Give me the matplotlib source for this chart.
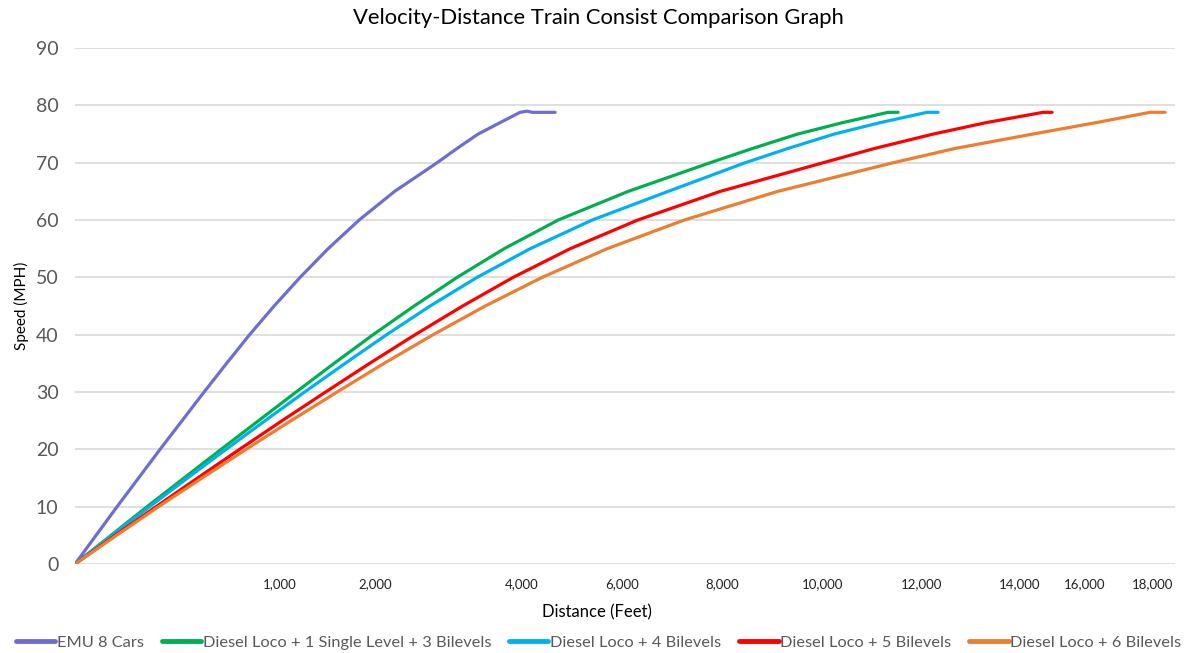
import matplotlib.pyplot as plt

plt.rcParams['font.family'] = ['Lato', 'DejaVu Sans']

# each consist: sample position along the run vs. speed (mph)
emu_t = [0, 4.2, 8.4, 12.7, 17.0, 21.4, 25.8, 30.3, 34.9, 39.8, 45.0, 50.6, 56.8, 63.9,
         72.4, 76.4, 80.6, 85.0, 89.0, 90.4, 91.5, 96]
emu_v = [0, 5, 10, 15, 20, 25, 30, 35, 40, 45, 50, 55, 60, 65,
         70, 72.5, 75, 77, 78.8, 79.0, 78.8, 78.8]

d13_t = [0, 7.2, 14.4, 21.8, 29.2, 36.7, 44.2, 51.8, 59.6, 67.8, 76.4, 85.8, 96.6, 110.6,
         127, 135.5, 144.5, 153.5, 162.6, 164.6]
d13_v = [0, 5, 10, 15, 20, 25, 30, 35, 40, 45, 50, 55, 60, 65,
         70, 72.5, 75, 77, 78.8, 78.8]

d4_t = [0, 7.4, 14.9, 22.5, 30.2, 38, 45.9, 54, 62.3, 71, 80.4, 91, 103.4, 118.6,
        134, 142.6, 151.8, 161.0, 170.4, 172.6]
d4_v = [0, 5, 10, 15, 20, 25, 30, 35, 40, 45, 50, 55, 60, 65,
        70, 72.5, 75, 77, 78.8, 78.8]

d5_t = [0, 8, 16.2, 24.5, 32.9, 41.4, 50.1, 58.9, 68, 77.5, 87.6, 99, 112.5, 129,
        149.6, 159.9, 171.6, 182.2, 193.6, 195.4]
d5_v = [0, 5, 10, 15, 20, 25, 30, 35, 40, 45, 50, 55, 60, 65,
        70, 72.5, 75, 77, 78.8, 78.8]

d6_t = [0, 8.3, 16.7, 25.4, 34.2, 43.2, 52.4, 61.8, 71.6, 82, 93.4, 106.4, 121.8, 140.5,
        163.6, 176, 191.5, 204.2, 215, 218]
d6_v = [0, 5, 10, 15, 20, 25, 30, 35, 40, 45, 50, 55, 60, 65,
        70, 72.5, 75, 77, 78.8, 78.8]

labels = ['EMU 8 Cars', 'Diesel Loco + 1 Single Level + 3 Bilevels',
          'Diesel Loco + 4 Bilevels', 'Diesel Loco + 5 Bilevels',
          'Diesel Loco + 6 Bilevels']
colors = ['#6E6ED2', '#00B050', '#00B0F0', '#FF0000', '#ED7D31']

# distance labels shown along the category axis
dist_pos = [41, 60, 89.4, 109.4, 129.4, 149.4, 169.2, 189, 202, 215.4]
dist_labels = ['1,000', '2,000', '4,000', '6,000', '8,000', '10,000',
               '12,000', '14,000', '16,000', '18,000']

fig = plt.figure(figsize=(11.97, 6.53), dpi=100)
ax = fig.add_axes([0.0627, 0.1363, 0.919, 0.790])

series = [(emu_t, emu_v), (d13_t, d13_v), (d4_t, d4_v), (d5_t, d5_v), (d6_t, d6_v)]
for (t, v), c, lab in zip(series, colors, labels):
    ax.plot(t, v, color=c, lw=2.3, label=lab, solid_capstyle='round',
            solid_joinstyle='round', zorder=3)

ax.set_xlim(0, 220)
ax.set_ylim(0, 90)
ax.set_yticks(range(0, 91, 10))
ax.set_xticks(dist_pos)
ax.set_xticklabels(dist_labels)
ax.grid(axis='y', color='#D9D9D9', lw=1.2)
ax.set_axisbelow(True)
for s in ax.spines.values():
    s.set_visible(False)
ax.tick_params(axis='both', length=0)
ax.tick_params(axis='y', labelsize=14, labelcolor='#595959', pad=12)
ax.tick_params(axis='x', labelsize=9.5, labelcolor='#222222', pad=10)

ax.set_ylabel('Speed (MPH)', fontsize=11, labelpad=5)
ax.set_xlabel('Distance (Feet)', fontsize=12)
ax.xaxis.set_label_coords(0.4745, -0.078)
fig.suptitle('Velocity-Distance Train Consist Comparison Graph', fontsize=15.8, y=0.988)

leg = fig.legend(loc='lower center', bbox_to_anchor=(0.5, -0.018), ncol=5, frameon=False,
                 fontsize=11.8, labelcolor='#595959', handlelength=2.4, handletextpad=0.1,
                 columnspacing=1.1)
for h in leg.get_lines():
    h.set_linewidth(3.5)

fig.savefig('out.png', dpi=100)
